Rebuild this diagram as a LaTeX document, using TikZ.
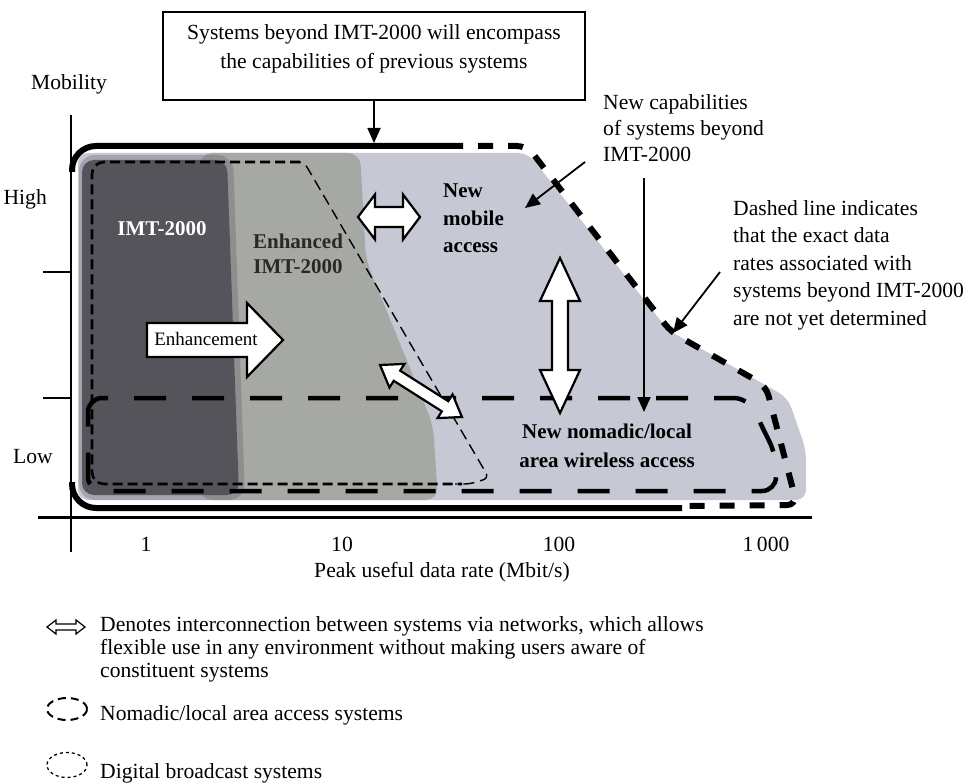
\documentclass[tikz,border=0pt]{standalone}
\usepackage{fontspec}
\setmainfont{Liberation Serif}
\usetikzlibrary{arrows.meta}
\definecolor{lightfill}{RGB}{198,200,212}
\definecolor{midfill}{RGB}{166,168,164}
\definecolor{darkfill}{RGB}{84,84,90}
\definecolor{enhtext}{RGB}{40,40,40}
\newcommand{\dblarrow}[8][hollow]{%
  \begin{scope}[shift={(#2,#3)}, rotate=#4]
    \filldraw[#1] (-#5,0) -- (-#5+#6,-#7) -- (-#5+#6,-#8) -- (#5-#6,-#8) -- (#5-#6,-#7) -- (#5,0)
      -- (#5-#6,#7) -- (#5-#6,#8) -- (-#5+#6,#8) -- (-#5+#6,#7) -- cycle;
  \end{scope}}
\begin{document}
\begin{tikzpicture}[x=1pt,y=-1pt,
  lbl/.style={font=\fontsize{21.6}{26}\selectfont, inner sep=0pt},
  blbl/.style={font=\fontsize{21}{26}\selectfont\bfseries, inner sep=0pt},
  thinarrow/.style={line width=1.8pt, -{Triangle[length=15pt,width=13pt]}},
  hollow/.style={draw=black, fill=white, line width=2.2pt, line join=miter},
  smallhollow/.style={draw=black, fill=white, line width=1.2pt, line join=miter},
  outerline/.style={line width=6pt},
  nomadic/.style={line width=4.5pt, dash pattern=on 32pt off 26pt},
  broadcast/.style={line width=2.6pt, dash pattern=on 10pt off 5pt},
  broadthin/.style={line width=1.4pt, dash pattern=on 11pt off 6pt},
]
\useasboundingbox (0,0) rectangle (968,783);

% ---------- shaded regions ----------
\fill[lightfill, rounded corners=10pt] (78,153) -- (528,153) -- (668,330) -- (760,382) -- (788,398) -- (806,450) -- (806,500) -- (78,500) -- cycle;
\fill[midfill, rounded corners=12pt] (200,153) -- (360,153) -- (366,260) -- (433,425) -- (438,500) -- (200,500) -- cycle;
\fill[darkfill, opacity=0.3, rounded corners=16pt] (79,155) -- (233,155) -- (245,500) -- (79,500) -- cycle;
\fill[darkfill, rounded corners=12pt] (82,160) -- (227,160) -- (239,495) -- (82,495) -- cycle;

% ---------- inner dashed boundaries ----------
\draw[broadcast, rounded corners=12pt] (300,162) -- (92,162) -- (92,484) -- (462,484);
\draw[broadthin, rounded corners=6pt] (290,162) -- (304,162) -- (489,478) -- (470,484) -- (455,484);
\draw[nomadic, rounded corners=14pt] (88,430) -- (88,398) -- (748,398) -- (776,455) -- (776,491) -- (88,491) -- cycle;

% ---------- outer boundary ----------
\draw[outerline, rounded corners=24pt] (72,172) -- (72,146) -- (463,146);
\draw[outerline, rounded corners=24pt] (72,482) -- (72,508) -- (682,508);
\draw[outerline, dash pattern=on 15pt off 15pt, dash phase=15pt, rounded corners=10pt]
  (463,146) -- (527,146) -- (671,332) -- (766,386) -- (797,505) -- (682,506);

% ---------- axes ----------
\coordinate (ytop) at (71,115);
\coordinate (ybot) at (71,552);
\coordinate (xl) at (38,517);
\coordinate (xr) at (812,517);
\draw[line width=2.5pt] (ytop) -- (ybot);
\draw[line width=3pt] (xl) -- (xr);
\coordinate (t1a) at (43,272); \coordinate (t1b) at (71,272);
\coordinate (t2a) at (43,398); \coordinate (t2b) at (71,398);
\draw[line width=2.5pt] (t1a) -- (t1b);
\draw[line width=2.5pt] (t2a) -- (t2b);

\node[lbl, anchor=base] (mob) at (69,90) {Mobility};
\node[lbl, anchor=base east] (high) at (47,205) {High};
\node[lbl, anchor=base east] (low) at (53,463) {Low};
\node[lbl, anchor=base] (x1) at (146,551) {1};
\node[lbl, anchor=base] (x10) at (342,551) {10};
\node[lbl, anchor=base] (x100) at (559,551) {100};
\node[lbl, anchor=base] (x1000) at (766,551) {1\,000};
\node[lbl, anchor=base] (xlab) at (442,577) {Peak useful data rate (Mbit/s)};

% ---------- region labels ----------
\node[blbl, anchor=base, text=white] (imt) at (162,236) {IMT-2000};
\node[blbl, anchor=north, align=center, text=enhtext, font=\fontsize{21}{25}\selectfont\bfseries] (enh) at (298,234) {Enhanced\\IMT-2000};
\node[blbl, anchor=north west, align=left, font=\fontsize{21}{27.5}\selectfont\bfseries] (nma) at (443,184) {New\\mobile\\access};
\node[blbl, anchor=north, align=center, font=\fontsize{21}{29}\selectfont\bfseries] (nomad) at (607,424) {New nomadic/local\\area wireless access};

% ---------- hollow arrows ----------
\dblarrow{389}{217}{0}{31}{17}{22.5}{10}
\dblarrow{560}{335.5}{90}{77.5}{43}{20}{8}
\dblarrow{421}{391}{-32.4}{48.5}{20}{14}{6}
\filldraw[hollow] (147,323) -- (247,323) -- (247,303) -- (283,340) -- (247,377) -- (247,357) -- (147,357) -- cycle;
\node[font=\fontsize{19}{22}\selectfont, inner sep=0pt, anchor=base] (enhm) at (206,345) {Enhancement};

% ---------- top box ----------
\node[draw, line width=2.2pt, minimum width=422pt, minimum height=88pt, inner sep=0pt] (box) at (374,56) {};
\node[lbl, anchor=north, align=center, font=\fontsize{21.6}{29}\selectfont] (boxtext) at (374,24) {Systems beyond IMT-2000 will encompass\\the capabilities of previous systems};
\coordinate (ttop) at (374,143);
\draw[thinarrow] (box.south) -- (ttop);

% ---------- annotations ----------
\node[lbl, anchor=north west, align=left] (newcap) at (603,94) {New capabilities\\of systems beyond\\IMT-2000};
\coordinate (nc1) at (585,162); \coordinate (nc2) at (525,208);
\draw[thinarrow] (nc1) -- (nc2);
\coordinate (v1) at (644,178); \coordinate (v2) at (644,412);
\draw[thinarrow] (v1) -- (v2);

\node[lbl, anchor=north west, align=left, font=\fontsize{21.6}{27.5}\selectfont] (dashnote) at (733,200) {Dashed line indicates\\that the exact data\\rates associated with\\systems beyond IMT-2000\\are not yet determined};
\coordinate (d1) at (720,272); \coordinate (d2) at (673,333);
\draw[thinarrow] (d1) -- (d2);

% ---------- legend ----------
\dblarrow[smallhollow]{66}{627}{0}{19}{9}{7}{3}
\node[lbl, anchor=north west, align=left, font=\fontsize{21.6}{23.4}\selectfont] (leg1) at (100,616) {Denotes interconnection between systems via networks, which allows\\flexible use in any environment without making users aware of\\constituent systems};
\draw[line width=2pt, dash pattern=on 8pt off 5pt] (67,709) ellipse [x radius=20pt, y radius=11pt];
\node[lbl, anchor=base west] (leg2) at (100,720) {Nomadic/local area access systems};
\draw[line width=1.3pt, dash pattern=on 3pt off 3pt] (67,765) ellipse [x radius=20pt, y radius=12.5pt];
\node[lbl, anchor=base west] (leg3) at (100,778) {Digital broadcast systems};
\end{tikzpicture}
\end{document}
